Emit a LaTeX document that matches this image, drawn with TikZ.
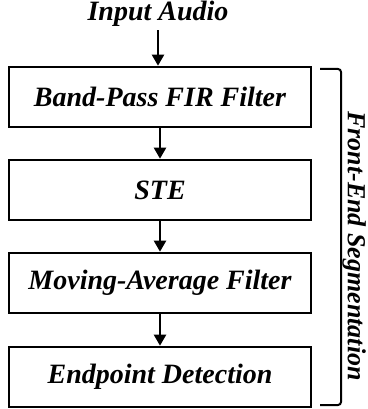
\documentclass[tikz,border=0pt]{standalone}
\usepackage{fontspec}
\setmainfont{Liberation Serif}
\usetikzlibrary{arrows.meta}

\begin{document}
\begin{tikzpicture}
		[x=1pt,y=-1pt,
		%Styles
		block/.style={draw,line width=2.6pt,minimum width=302pt,minimum height=60pt,inner sep=0pt,
			font=\fontsize{28}{32}\selectfont\bfseries\itshape},
		label text/.style={font=\fontsize{28}{32}\selectfont\bfseries\itshape},
		flow/.style={-{Triangle[length=11pt,width=12pt]},line width=2.2pt},
		bracket/.style={line width=2pt,rounded corners=3pt}
		]
		
		\useasboundingbox (0,0) rectangle (367,409);
		
		%The graphic
		
		\node[label text] (input) at (158, 14) {Input Audio};
		
		\node[block] (bpf) at (160, 97) {Band-Pass FIR Filter};
		\node[block] (ste) at (160, 190) {STE};
		\node[block] (maf) at (160, 283) {Moving-Average Filter};
		\node[block] (epd) at (160, 377) {Endpoint Detection};
		
		\draw[flow] (input) -- (input |- bpf.north);
		\draw[flow] (bpf) -- (ste);
		\draw[flow] (ste) -- (maf);
		\draw[flow] (maf) -- (epd);
		
		\coordinate (brtop) at (320, 69);
		\coordinate (brbot) at (320, 405);
		\draw[bracket] (brtop) -- ++(21,0) -- ++(0,336) -- (brbot);
		
		\node[label text,font=\fontsize{26}{30}\selectfont\bfseries\itshape,rotate=-90,inner sep=0pt] (seg) at (354, 246) {Front-End Segmentation};
	\end{tikzpicture}
\end{document}
